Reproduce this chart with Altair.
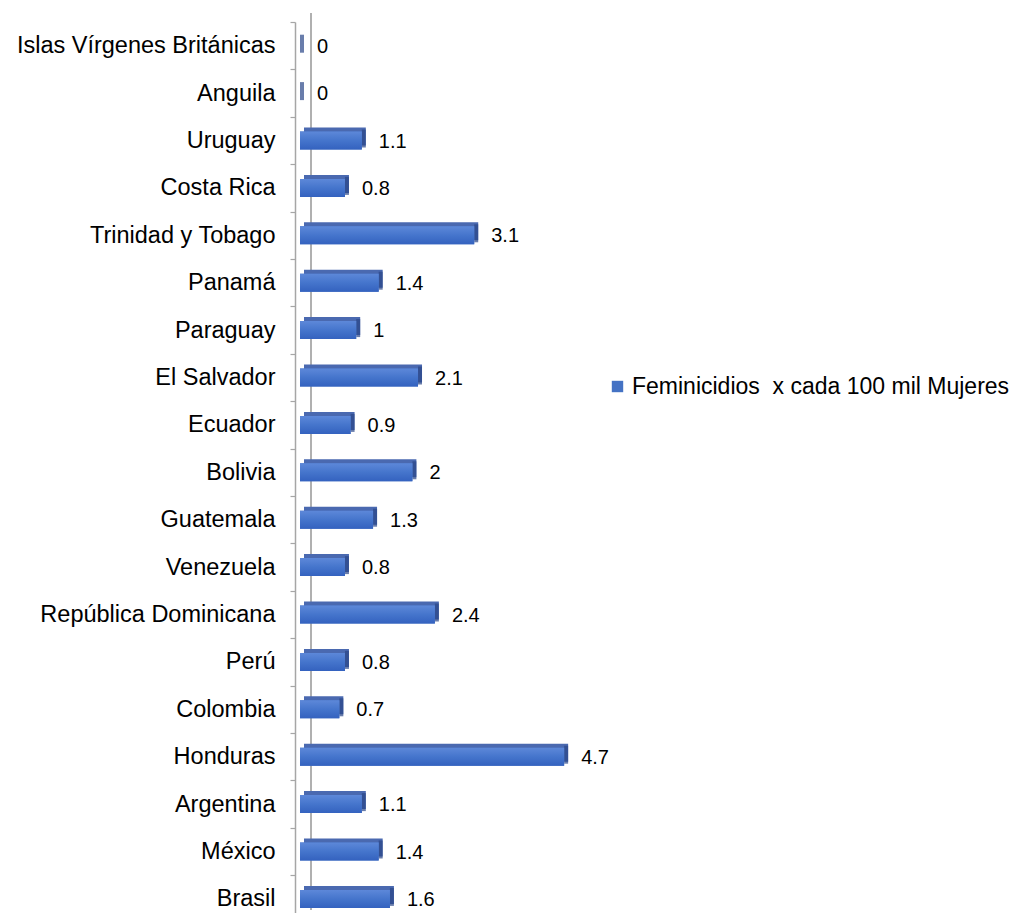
import altair as alt
import pandas as pd

countries = [
    "Islas Vírgenes Británicas", "Anguila", "Uruguay", "Costa Rica",
    "Trinidad y Tobago ", "Panamá", "Paraguay", "El Salvador", "Ecuador",
    "Bolivia", "Guatemala ", "Venezuela", "República Dominicana", "Perú",
    "Colombia", "Honduras", "Argentina", "México", "Brasil",
]
values = [0, 0, 1.1, 0.8, 3.1, 1.4, 1, 2.1, 0.9, 2, 1.3, 0.8, 2.4, 0.8, 0.7, 4.7, 1.1, 1.4, 1.6]
labels = ["0", "0", "1.1", "0.8", "3.1", "1.4", "1", "2.1", "0.9", "2", "1.3", "0.8",
          "2.4", "0.8", "0.7", "4.7", "1.1", "1.4", "1.6"]
series_name = "Feminicidios \u00a0x cada 100 mil Mujeres"

df = pd.DataFrame({"pais": countries, "valor": values, "etiqueta": labels,
                   "serie": [series_name] * len(countries)})

FONT = "Liberation Sans"
H = 882
ROW_RANGE = 900.6

y_enc = alt.Y("pais:N", sort=countries, title=None,
              scale=alt.Scale(range=[0, ROW_RANGE], paddingInner=0, paddingOuter=0),
              axis=alt.Axis(offset=5, domainColor="#a6a6a6", domainWidth=1.5,
                            tickColor="#a6a6a6", tickSize=5, tickWidth=1.2,
                            tickBand="extent", labelFontSize=23.5, labelFont=FONT,
                            labelColor="#000000", labelPadding=15, labelLimit=400))
x_enc = alt.X("valor:Q", scale=alt.Scale(domain=[0, 5], nice=False), axis=None)

base = alt.Chart(df)

back_wall = base.mark_rule(color="#b0b0b0", strokeWidth=1.5).encode(
    x=alt.value(11), y=alt.value(-9), y2=alt.value(888))

top_face = base.mark_bar(size=18, xOffset=4, yOffset=-4, color="#4a69b0").encode(
    x=x_enc, y=y_enc)
side_face = base.mark_tick(size=18, thickness=4, xOffset=2, yOffset=-2,
                           color="#2a4687").encode(x=x_enc, y=y_enc)
front_legend = base.mark_bar(size=18).encode(
    x=x_enc, y=y_enc,
    color=alt.Color("serie:N", scale=alt.Scale(range=["#4472c4"]),
                    legend=alt.Legend(title=None, orient="none", legendX=306, legendY=353,
                                      symbolType="square", symbolSize=130,
                                      symbolStrokeWidth=0, labelFontSize=23,
                                      labelFont=FONT, labelColor="#000000",
                                      labelLimit=600, labelOffset=3)))
front = base.mark_bar(size=18, fill=alt.Gradient(
    gradient="linear", x1=0, x2=0, y1=0, y2=1,
    stops=[alt.GradientStop(color="#5d88d9", offset=0),
           alt.GradientStop(color="#4575cc", offset=0.5),
           alt.GradientStop(color="#3462bf", offset=1)])).encode(x=x_enc, y=y_enc)

text = base.mark_text(align="left", baseline="middle", dx=17, dy=1, fontSize=20,
                      font=FONT, color="#000000").encode(
    x=x_enc, y=y_enc, text="etiqueta:N")

chart = alt.layer(back_wall, top_face, side_face, front_legend,
                  front, text).properties(
    width=281, height=H,
    autosize=alt.AutoSizeParams(type="none"),
    padding={"left": 292, "top": 14, "right": 434, "bottom": 9},
).configure(background="#ffffff").configure_view(stroke=None, strokeWidth=0)

chart.save("out.html", embed_options={"renderer": "svg", "actions": False})
